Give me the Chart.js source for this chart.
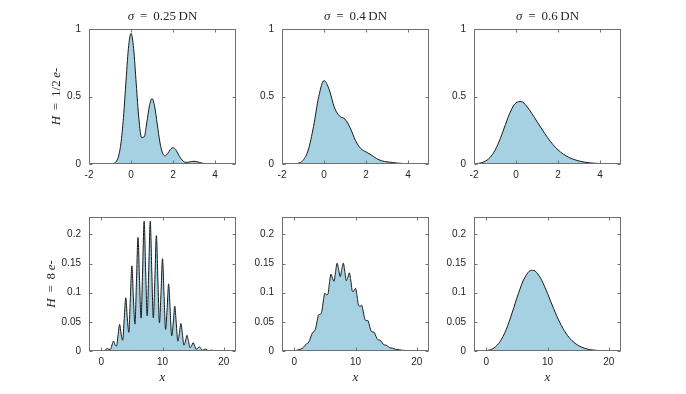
<!DOCTYPE html>
<html>
<head>
<meta charset="utf-8">
<script src="https://cdn.jsdelivr.net/npm/chart.js@4.4.0/dist/chart.umd.min.js"></script>
<style>
  body { margin: 0; background: #fff; width: 686px; height: 394px; position: relative; overflow: hidden; }
  canvas { position: absolute; }
</style>
</head>
<body>
<canvas id="c0"></canvas>
<canvas id="c1"></canvas>
<canvas id="c2"></canvas>
<canvas id="c3"></canvas>
<canvas id="c4"></canvas>
<canvas id="c5"></canvas>
<script>
// ---- data ----
const sigmaLabels = ['0.25', '0.4', '0.6'];
const gainLabels = ['1/2', '8'];

const xTicksTop = [-2, 0, 2, 4];
const yTicksTop = [0, 0.5, 1];
const xTicksBottom = [0, 10, 20];
const yTicksBottom = [0, 0.05, 0.1, 0.15, 0.2];

// top row, H = 1/2 e-
const xTopFine = [-2, -1.5, -1, -0.875, -0.75, -0.625, -0.5, -0.375, -0.25, -0.125,
  0, 0.125, 0.25, 0.375, 0.5, 0.625, 0.75, 0.875,
  1, 1.125, 1.25, 1.375, 1.5, 1.625, 1.75, 1.875,
  2, 2.125, 2.25, 2.375, 2.5, 2.625, 2.75, 2.875,
  3, 3.125, 3.25, 3.375, 3.5, 3.625, 3.75, 3.875,
  4, 4.125, 4.25, 4.5, 4.75, 5];
const yH05s025 = [0, 0, 0.0003, 0.0021, 0.0107, 0.0425, 0.1310, 0.3143, 0.5870, 0.8540,
  0.9680, 0.8550, 0.5920, 0.3355, 0.1965, 0.1997, 0.3042, 0.4292,
  0.4843, 0.4274, 0.2948, 0.1625, 0.0819, 0.0605, 0.0788, 0.1079,
  0.1212, 0.1068, 0.0736, 0.0402, 0.0191, 0.0118, 0.0135, 0.0180,
  0.0201, 0.0177, 0.0122, 0.0066, 0.0030, 0.0017, 0.0017, 0.0022,
  0.0025, 0.0022, 0.0015, 0.0003, 0, 0];

const xTop = [-2, -1.75, -1.5, -1.25, -1, -0.75, -0.5, -0.25, 0,
  0.25, 0.5, 0.75, 1, 1.25, 1.5, 1.75, 2, 2.25, 2.5, 2.75, 3,
  3.25, 3.5, 3.75, 4, 4.25, 4.5, 4.75, 5];
const yH05s04 = [0, 0, 0.0005, 0.0046, 0.0266, 0.1043, 0.2773, 0.5000, 0.6180,
  0.5499, 0.4156, 0.3537, 0.3324, 0.2664, 0.1736, 0.1145, 0.0895, 0.0667, 0.0407, 0.0234, 0.0160,
  0.0113, 0.0066, 0.0035, 0.0022, 0.0014, 0.0007, 0.0003, 0.0001];
const yH05s06 = [0.0016, 0.0057, 0.0177, 0.0463, 0.1014, 0.1875, 0.2939, 0.3928, 0.4538,
  0.4628, 0.4297, 0.3753, 0.3149, 0.2542, 0.1962, 0.1452, 0.1044, 0.0734, 0.0505, 0.0338, 0.0221,
  0.0142, 0.0088, 0.0055, 0.0034, 0.0020, 0.0011, 0.0006, 0.0003];

// bottom row, H = 8 e-
const xBottom = [-2, -1, -0.75, -0.5, -0.25,
  0, 0.25, 0.5, 0.75, 1, 1.25, 1.5, 1.75, 2, 2.25, 2.5, 2.75, 3, 3.25, 3.5, 3.75,
  4, 4.25, 4.5, 4.75, 5, 5.25, 5.5, 5.75, 6, 6.25, 6.5, 6.75, 7, 7.25, 7.5, 7.75,
  8, 8.25, 8.5, 8.75, 9, 9.25, 9.5, 9.75, 10, 10.25, 10.5, 10.75, 11, 11.25, 11.5, 11.75,
  12, 12.25, 12.5, 12.75, 13, 13.25, 13.5, 13.75, 14, 14.25, 14.5, 14.75, 15, 15.25, 15.5, 15.75,
  16, 16.25, 16.5, 16.75, 17, 17.25, 17.5, 17.75, 18, 18.25, 18.5, 18.75, 19, 19.25, 19.5, 19.75,
  20, 20.25, 20.5, 20.75, 21, 21.25, 21.5, 21.75, 22];
const yH8s025 = [0, 0, 0, 0.0001, 0.0003,
  0.0005, 0.0004, 0.0007, 0.0026, 0.0043, 0.0028, 0.0029, 0.0104, 0.0171, 0.0109, 0.0085, 0.0279, 0.0457, 0.0287, 0.0185, 0.0559,
  0.0914, 0.0570, 0.0321, 0.0897, 0.1462, 0.0908, 0.0462, 0.1198, 0.1949, 0.1207, 0.0565, 0.1373, 0.2228, 0.1376, 0.0603, 0.1376,
  0.2228, 0.1373, 0.0569, 0.1226, 0.1980, 0.1218, 0.0482, 0.0983, 0.1584, 0.0974, 0.0370, 0.0716, 0.1152, 0.0707, 0.0260, 0.0479,
  0.0768, 0.0471, 0.0168, 0.0295, 0.0473, 0.0290, 0.0101, 0.0169, 0.0270, 0.0165, 0.0056, 0.0090, 0.0144, 0.0088, 0.0029, 0.0045,
  0.0072, 0.0044, 0.0014, 0.0021, 0.0034, 0.0021, 0.0007, 0.0010, 0.0015, 0.0009, 0.0003, 0.0004, 0.0006, 0.0004, 0.0001, 0.0002,
  0.0003, 0.0002, 0.0001, 0.0001, 0.0001, 0.0001, 0, 0, 0];
const yH8s04 = [0, 0, 0.0001, 0.0002, 0.0003,
  0.0005, 0.0007, 0.0014, 0.0023, 0.0032, 0.0041, 0.0062, 0.0095, 0.0121, 0.0138, 0.0180, 0.0258, 0.0315, 0.0334, 0.0393, 0.0526,
  0.0624, 0.0629, 0.0681, 0.0859, 0.0992, 0.0966, 0.0978, 0.1170, 0.1319, 0.1249, 0.1197, 0.1366, 0.1507, 0.1395, 0.1277, 0.1395,
  0.1508, 0.1369, 0.1206, 0.1266, 0.1342, 0.1199, 0.1022, 0.1033, 0.1076, 0.0948, 0.0784, 0.0767, 0.0785, 0.0683, 0.0551, 0.0521,
  0.0525, 0.0451, 0.0356, 0.0327, 0.0324, 0.0276, 0.0213, 0.0191, 0.0186, 0.0157, 0.0119, 0.0104, 0.0099, 0.0083, 0.0062, 0.0053,
  0.0050, 0.0041, 0.0030, 0.0025, 0.0024, 0.0019, 0.0014, 0.0011, 0.0011, 0.0009, 0.0006, 0.0005, 0.0004, 0.0004, 0.0003, 0.0002,
  0.0002, 0.0001, 0.0001, 0.0001, 0.0001, 0, 0, 0, 0];

const xBottomCoarse = [-2, -1.5, -1, -0.5, 0, 0.5, 1, 1.5, 2, 2.5, 3, 3.5, 4,
  4.5, 5, 5.5, 6, 6.5, 7, 7.5, 8, 8.5, 9, 9.5, 10, 10.5, 11, 11.5, 12,
  12.5, 13, 13.5, 14, 14.5, 15, 15.5, 16, 16.5, 17, 17.5, 18, 18.5, 19, 19.5, 20,
  20.5, 21, 21.5, 22];
const yH8s06 = [0, 0, 0.0001, 0.0002, 0.0007, 0.0017, 0.0037, 0.0072, 0.0125, 0.0203, 0.0306, 0.0434, 0.0584,
  0.0744, 0.0911, 0.1062, 0.1201, 0.1297, 0.1368, 0.1384, 0.1371, 0.1309, 0.1227, 0.1111, 0.0990, 0.0856, 0.0728, 0.0603, 0.0492,
  0.0391, 0.0307, 0.0235, 0.0178, 0.0132, 0.0096, 0.0069, 0.0049, 0.0034, 0.0023, 0.0016, 0.0011, 0.0007, 0.0005, 0.0003, 0.0002,
  0.0001, 0.0001, 0, 0];

// ---- look ----
const FILL = 'rgb(166, 209, 227)';
const LINE = '#1a1a1a';
const AXIS = '#707070';
const TEXT = '#262626';
const SANS = '"Liberation Sans", Arial, sans-serif';
const SERIF = '"Liberation Serif", "DejaVu Serif", serif';
const TICK_LEN = 3;
const THIN = '\u2009';

const colLeft = [89, 282, 474];
const rowTop = [29, 217];
const rowH = [135, 134];
const AREA_W = 147;
const PAD_L = 60, PAD_T = 30, PAD_R = 12, PAD_B = 45;

// draws a string made of italic / upright pieces, centred on (cx, cy)
function drawRich(ctx, parts, cx, cy, size) {
  let fonts = parts.map(p => (p[1] ? 'italic ' : '') + size + 'px ' + SERIF);
  let w = 0;
  parts.forEach((p, i) => { ctx.font = fonts[i]; w += ctx.measureText(p[0]).width; });
  let x = cx - w / 2;
  ctx.fillStyle = TEXT;
  ctx.textBaseline = 'middle';
  ctx.textAlign = 'left';
  parts.forEach((p, i) => {
    ctx.font = fonts[i];
    ctx.fillText(p[0], x, cy);
    x += ctx.measureText(p[0]).width;
  });
}

const matlabAxes = {
  id: 'matlabAxes',
  afterDraw(chart, args, opts) {
    const ctx = chart.ctx, a = chart.chartArea;
    const xs = chart.scales.x, ys = chart.scales.y;
    const L = Math.round(a.left) + 0.5, R = Math.round(a.right) - 0.5;
    const T = Math.round(a.top) + 0.5, B = Math.round(a.bottom) - 0.5;
    ctx.save();
    ctx.strokeStyle = AXIS;
    ctx.lineWidth = 1;
    ctx.strokeRect(L, T, R - L, B - T);
    ctx.beginPath();
    xs.ticks.forEach(t => {
      const p = Math.round(xs.getPixelForValue(t.value)) + 0.5;
      ctx.moveTo(p, B); ctx.lineTo(p, B - TICK_LEN);
      ctx.moveTo(p, T); ctx.lineTo(p, T + TICK_LEN);
    });
    ys.ticks.forEach(t => {
      const p = Math.round(ys.getPixelForValue(t.value)) + 0.5;
      ctx.moveTo(L, p); ctx.lineTo(L + TICK_LEN, p);
      ctx.moveTo(R, p); ctx.lineTo(R - TICK_LEN, p);
    });
    ctx.stroke();

    const midX = (a.left + a.right) / 2, midY = (a.top + a.bottom) / 2;
    if (opts.title) drawRich(ctx, opts.title, midX, a.top - 12, 13);
    if (opts.xlabel) drawRich(ctx, opts.xlabel, midX, a.bottom + 27, 13);
    if (opts.ylabel) {
      ctx.translate(a.left - opts.ylabelGap, midY);
      ctx.rotate(-Math.PI / 2);
      drawRich(ctx, opts.ylabel, 0, 0, 13);
    }
    ctx.restore();
  }
};

function makePanel(id, row, col, xs, ys) {
  const canvas = document.getElementById(id);
  const w = PAD_L + AREA_W + PAD_R, h = PAD_T + rowH[row] + PAD_B;
  canvas.width = w; canvas.height = h;
  canvas.style.left = (colLeft[col] - PAD_L) + 'px';
  canvas.style.top = (rowTop[row] - PAD_T) + 'px';

  const top = row === 0;
  const xTicks = top ? xTicksTop : xTicksBottom;
  const yTicks = top ? yTicksTop : yTicksBottom;

  return new Chart(canvas, {
    type: 'line',
    data: {
      datasets: [{
        data: xs.map((x, i) => ({ x: x, y: ys[i] })),
        fill: 'origin',
        backgroundColor: FILL,
        borderColor: LINE,
        borderWidth: 1,
        pointRadius: 0,
        cubicInterpolationMode: 'monotone'
      }]
    },
    options: {
      responsive: false,
      animation: false,
      layout: { padding: { top: PAD_T, right: PAD_R, left: 0, bottom: 0 } },
      plugins: {
        legend: { display: false },
        tooltip: { enabled: false },
        matlabAxes: {
          title: row === 0 ? [['σ', true], [' ' + THIN + '=' + THIN + ' ' + sigmaLabels[col] + THIN + 'DN', false]] : null,
          xlabel: row === 1 ? [['x', true]] : null,
          ylabel: col === 0 ? [['H', true], [' ' + THIN + '=' + THIN + ' ' + gainLabels[row] + THIN, false], ['e', true], ['-', false]] : null,
          ylabelGap: row === 0 ? 32 : 37
        }
      },
      scales: {
        x: {
          type: 'linear',
          min: -2,
          max: top ? 5 : 22,
          grid: { display: false, drawTicks: false },
          border: { display: false },
          ticks: { font: { family: SANS, size: 10 }, color: TEXT, padding: 5, maxRotation: 0,
                   callback: v => String(v) },
          afterBuildTicks: s => { s.ticks = xTicks.map(v => ({ value: v })); },
          afterFit: s => { s.height = PAD_B; }
        },
        y: {
          type: 'linear',
          min: 0,
          max: top ? 1 : 0.23,
          grid: { display: false, drawTicks: false },
          border: { display: false },
          ticks: { font: { family: SANS, size: 10 }, color: TEXT, padding: 8,
                   callback: v => String(v) },
          afterBuildTicks: s => { s.ticks = yTicks.map(v => ({ value: v })); },
          afterFit: s => { s.width = PAD_L; }
        }
      }
    },
    plugins: [matlabAxes]
  });
}

makePanel('c0', 0, 0, xTopFine, yH05s025);
makePanel('c1', 0, 1, xTop, yH05s04);
makePanel('c2', 0, 2, xTop, yH05s06);
makePanel('c3', 1, 0, xBottom, yH8s025);
makePanel('c4', 1, 1, xBottom, yH8s04);
makePanel('c5', 1, 2, xBottomCoarse, yH8s06);
</script>
</body>
</html>
